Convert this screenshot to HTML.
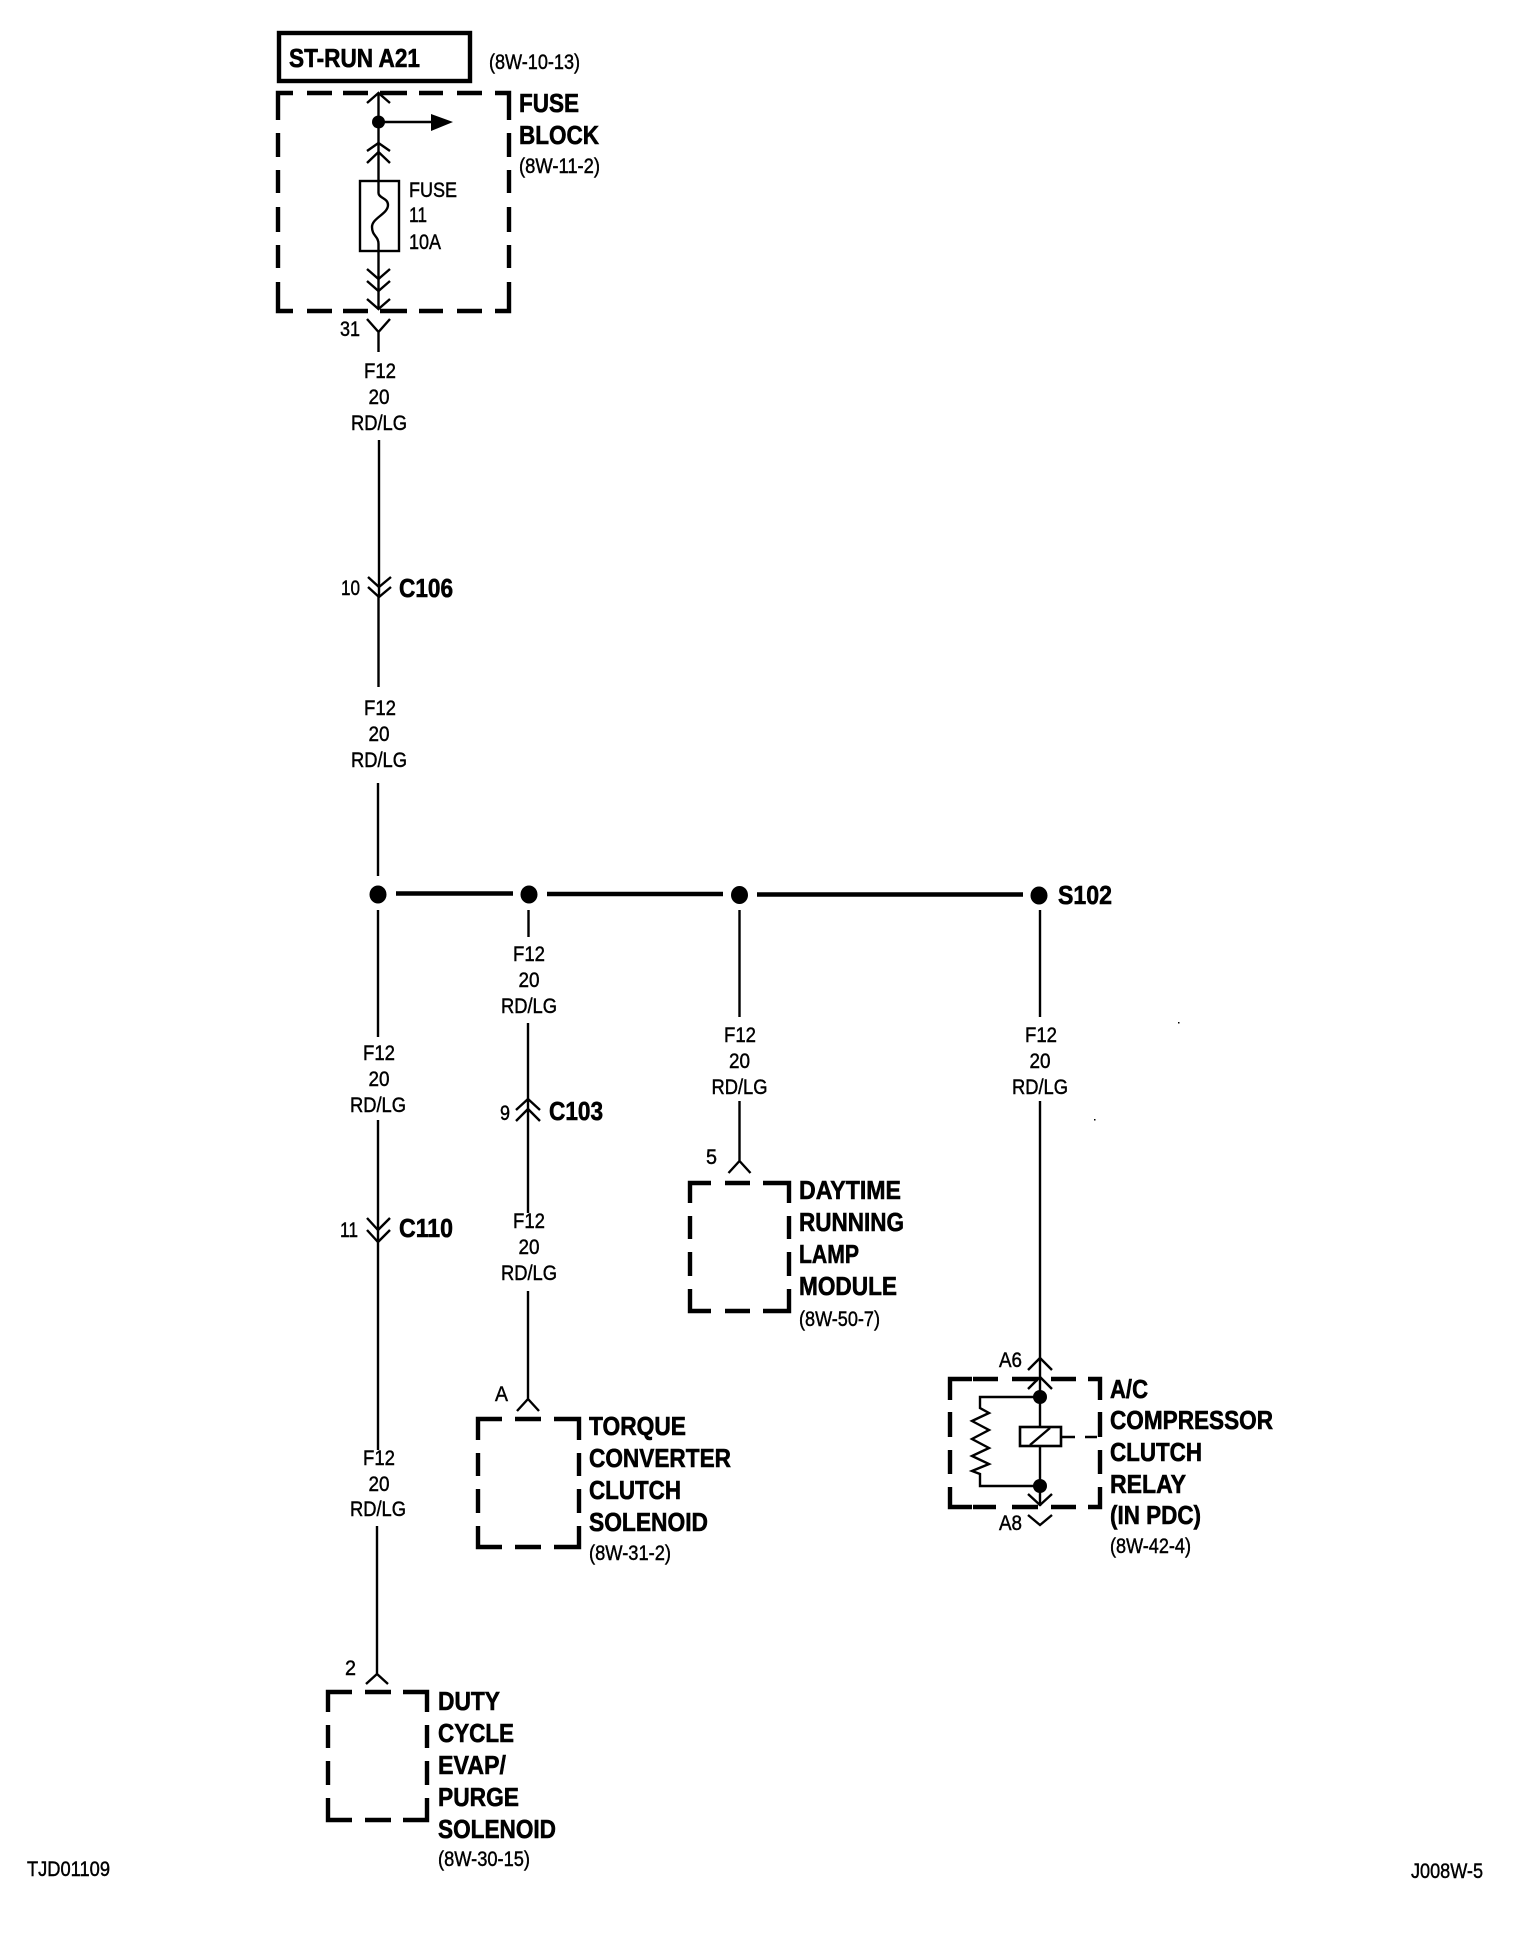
<!DOCTYPE html>
<html><head><meta charset="utf-8"><style>
html,body{margin:0;padding:0;background:#fff}
svg{display:block}
text{font-family:"Liberation Sans",sans-serif;fill:#000}
.b{font-weight:700;font-size:26px;stroke:#000;stroke-width:.6px}
.r{font-size:21px;stroke:#000;stroke-width:.45px}
.c{text-anchor:middle}
.l{fill:none;stroke:#000;stroke-width:2.4}
.t{fill:none;stroke:#000;stroke-width:4.4}
.d{fill:none;stroke:#000;stroke-width:4.4}
</style></head><body>
<svg width="1520" height="1936" viewBox="0 0 1520 1936" xmlns="http://www.w3.org/2000/svg">
<rect width="1520" height="1936" fill="#fff"/>

<!-- top box -->
<rect x="279" y="33" width="191" height="48" class="t"/>
<text x="289" y="67" class="b" textLength="131" lengthAdjust="spacingAndGlyphs">ST-RUN A21</text>
<text x="489" y="69" class="r" textLength="91" lengthAdjust="spacingAndGlyphs">(8W-10-13)</text>

<!-- fuse block dashed -->
<path class="d" d="M293 93H278V120M307 93H332M343 93H368M380 93H407M419 93H443M457 93H482M495 93H509V120M278 133V157M278 170V193M278 207V232M278 245V268M278 282V311H293M307 311H332M343 311H368M380 311H407M419 311H443M457 311H482M495 311H509V282M509 268V245M509 232V207M509 193V170M509 157V133"/>
<text x="519" y="112" class="b" textLength="60" lengthAdjust="spacingAndGlyphs">FUSE</text>
<text x="519" y="144" class="b" textLength="80" lengthAdjust="spacingAndGlyphs">BLOCK</text>
<text x="519" y="173" class="r" textLength="81" lengthAdjust="spacingAndGlyphs">(8W-11-2)</text>

<path class="l" d="M378.5 93V193C378.5 198 388 198 388 205C388 214 372 218 372 227C372 236 378.5 236 378.5 244V309"/>
<path class="l" d="M367 103L378.5 93L390 103M367 151L378.5 143L390 151M367 163L378.5 152L390 163"/>
<circle cx="378.5" cy="122" r="6.5"/>
<path class="l" d="M379 122H432"/>
<path d="M431 114L453 122L431 131Z"/>
<rect x="360" y="181" width="39" height="70" class="l"/>
<text x="409" y="197" class="r" textLength="48" lengthAdjust="spacingAndGlyphs">FUSE</text>
<text x="409" y="222" class="r" textLength="18" lengthAdjust="spacingAndGlyphs">11</text>
<text x="409" y="249" class="r" textLength="32" lengthAdjust="spacingAndGlyphs">10A</text>
<path class="l" d="M367 269L378.5 279L390 269M367 281L378.5 291L390 281M367 299L378.5 309L390 299"/>
<path class="l" d="M367 319L378.5 332L390 319M378.5 332V352"/>
<text x="340" y="336" class="r" textLength="20" lengthAdjust="spacingAndGlyphs">31</text>

<!-- main wire -->
<text x="380" y="378" class="r c" textLength="32" lengthAdjust="spacingAndGlyphs">F12</text><text x="379" y="404" class="r c" textLength="21" lengthAdjust="spacingAndGlyphs">20</text><text x="379" y="430" class="r c" textLength="56" lengthAdjust="spacingAndGlyphs">RD/LG</text>
<path class="l" d="M379 440V596"/>
<path class="l" d="M368 577L379 587L391 577M368 587L379 597L391 587"/>
<text x="341" y="595" class="r" textLength="19" lengthAdjust="spacingAndGlyphs">10</text>
<text x="399" y="597" class="b" textLength="54" lengthAdjust="spacingAndGlyphs">C106</text>
<path class="l" d="M378.5 597V687"/>
<text x="380" y="715" class="r c" textLength="32" lengthAdjust="spacingAndGlyphs">F12</text><text x="379" y="741" class="r c" textLength="21" lengthAdjust="spacingAndGlyphs">20</text><text x="379" y="767" class="r c" textLength="56" lengthAdjust="spacingAndGlyphs">RD/LG</text>
<path class="l" d="M378 783V876"/>

<!-- splice -->
<ellipse cx="378" cy="894.5" rx="8.5" ry="9"/>
<ellipse cx="529" cy="894.5" rx="8.5" ry="9"/>
<ellipse cx="739.5" cy="895" rx="8.5" ry="9"/>
<ellipse cx="1039" cy="895.5" rx="8.5" ry="9"/>
<path class="t" d="M396 893.5H513M547 894H723M757 894.5H1023"/>
<text x="1058" y="904" class="b" textLength="54" lengthAdjust="spacingAndGlyphs">S102</text>

<!-- branch 1 -->
<path class="l" d="M378 910V1037"/>
<text x="379" y="1060" class="r c" textLength="32" lengthAdjust="spacingAndGlyphs">F12</text><text x="379" y="1086" class="r c" textLength="21" lengthAdjust="spacingAndGlyphs">20</text><text x="378" y="1112" class="r c" textLength="56" lengthAdjust="spacingAndGlyphs">RD/LG</text>
<path class="l" d="M378 1120V1241"/>
<path class="l" d="M367 1218L378 1230L390 1218M367 1230L378 1242L390 1230"/>
<text x="340" y="1237" class="r" textLength="18" lengthAdjust="spacingAndGlyphs">11</text>
<text x="399" y="1237" class="b" textLength="54" lengthAdjust="spacingAndGlyphs">C110</text>
<path class="l" d="M378 1242V1450"/>
<text x="379" y="1465" class="r c" textLength="32" lengthAdjust="spacingAndGlyphs">F12</text><text x="379" y="1491" class="r c" textLength="21" lengthAdjust="spacingAndGlyphs">20</text><text x="378" y="1516" class="r c" textLength="56" lengthAdjust="spacingAndGlyphs">RD/LG</text>
<path class="l" d="M377 1526V1674M366 1684L377 1674L388 1684"/>
<text x="345" y="1675" class="r" textLength="11" lengthAdjust="spacingAndGlyphs">2</text>
<path class="d" d="M352 1692H328V1712M365 1692H391M403 1692H427V1712M328 1725V1748M328 1761V1785M328 1798V1820H352M365 1820H391M403 1820H427V1798M427 1785V1761M427 1748V1725"/>
<text x="438" y="1710" class="b" textLength="62" lengthAdjust="spacingAndGlyphs">DUTY</text>
<text x="438" y="1742" class="b" textLength="76" lengthAdjust="spacingAndGlyphs">CYCLE</text>
<text x="438" y="1774" class="b" textLength="68" lengthAdjust="spacingAndGlyphs">EVAP/</text>
<text x="438" y="1806" class="b" textLength="81" lengthAdjust="spacingAndGlyphs">PURGE</text>
<text x="438" y="1838" class="b" textLength="118" lengthAdjust="spacingAndGlyphs">SOLENOID</text>
<text x="438" y="1866" class="r" textLength="92" lengthAdjust="spacingAndGlyphs">(8W-30-15)</text>

<!-- branch 2 -->
<path class="l" d="M528.5 910V937"/>
<text x="529" y="961" class="r c" textLength="32" lengthAdjust="spacingAndGlyphs">F12</text><text x="529" y="987" class="r c" textLength="21" lengthAdjust="spacingAndGlyphs">20</text><text x="529" y="1013" class="r c" textLength="56" lengthAdjust="spacingAndGlyphs">RD/LG</text>
<path class="l" d="M528 1023V1213"/>
<path class="l" d="M516 1110L528 1099L540 1110M516 1121L528 1109L540 1121"/>
<text x="500" y="1120" class="r" textLength="10" lengthAdjust="spacingAndGlyphs">9</text>
<text x="549" y="1120" class="b" textLength="54" lengthAdjust="spacingAndGlyphs">C103</text>
<text x="529" y="1228" class="r c" textLength="32" lengthAdjust="spacingAndGlyphs">F12</text><text x="529" y="1254" class="r c" textLength="21" lengthAdjust="spacingAndGlyphs">20</text><text x="529" y="1280" class="r c" textLength="56" lengthAdjust="spacingAndGlyphs">RD/LG</text>
<path class="l" d="M528 1291V1399M517 1411L528 1399L539 1411"/>
<text x="495" y="1401" class="r" textLength="13" lengthAdjust="spacingAndGlyphs">A</text>
<path class="d" d="M502 1419H478V1440M515 1419H541M554 1419H579V1440M478 1453V1476M478 1489V1513M478 1526V1547H502M515 1547H541M554 1547H579V1526M579 1513V1489M579 1476V1453"/>
<text x="589" y="1435" class="b" textLength="97" lengthAdjust="spacingAndGlyphs">TORQUE</text>
<text x="589" y="1467" class="b" textLength="142" lengthAdjust="spacingAndGlyphs">CONVERTER</text>
<text x="589" y="1499" class="b" textLength="92" lengthAdjust="spacingAndGlyphs">CLUTCH</text>
<text x="589" y="1531" class="b" textLength="119" lengthAdjust="spacingAndGlyphs">SOLENOID</text>
<text x="589" y="1560" class="r" textLength="82" lengthAdjust="spacingAndGlyphs">(8W-31-2)</text>

<!-- branch 3 -->
<path class="l" d="M739.5 910V1017"/>
<text x="740" y="1042" class="r c" textLength="32" lengthAdjust="spacingAndGlyphs">F12</text><text x="739.5" y="1068" class="r c" textLength="21" lengthAdjust="spacingAndGlyphs">20</text><text x="739.5" y="1094" class="r c" textLength="56" lengthAdjust="spacingAndGlyphs">RD/LG</text>
<path class="l" d="M739.5 1101V1161M728.5 1173L739.5 1161L750.5 1173"/>
<text x="706" y="1164" class="r" textLength="11" lengthAdjust="spacingAndGlyphs">5</text>
<path class="d" d="M711 1183H690V1203M725 1183H750M763 1183H789V1203M690 1216V1239M690 1252V1276M690 1289V1311H711M725 1311H750M763 1311H789V1289M789 1276V1252M789 1239V1216"/>
<text x="799" y="1199" class="b" textLength="102" lengthAdjust="spacingAndGlyphs">DAYTIME</text>
<text x="799" y="1231" class="b" textLength="105" lengthAdjust="spacingAndGlyphs">RUNNING</text>
<text x="799" y="1263" class="b" textLength="60" lengthAdjust="spacingAndGlyphs">LAMP</text>
<text x="799" y="1295" class="b" textLength="98" lengthAdjust="spacingAndGlyphs">MODULE</text>
<text x="799" y="1326" class="r" textLength="81" lengthAdjust="spacingAndGlyphs">(8W-50-7)</text>

<!-- branch 4 -->
<path class="l" d="M1040 910V1017"/>
<text x="1041" y="1042" class="r c" textLength="32" lengthAdjust="spacingAndGlyphs">F12</text><text x="1040" y="1068" class="r c" textLength="21" lengthAdjust="spacingAndGlyphs">20</text><text x="1040" y="1094" class="r c" textLength="56" lengthAdjust="spacingAndGlyphs">RD/LG</text>
<path class="l" d="M1040 1101V1426"/>
<path class="l" d="M1028 1370L1040 1358L1052 1370M1028 1389L1040 1377L1052 1389"/>
<text x="999" y="1367" class="r" textLength="23" lengthAdjust="spacingAndGlyphs">A6</text>
<path class="d" d="M972 1379H950V1400M973 1379H998M1012 1379H1038M1051 1379H1076M1088 1379H1100V1400M950 1412V1437M950 1450V1474M950 1487V1507H972M973 1507H996M1012 1507H1038M1051 1507H1076M1088 1507H1100V1487M1100 1474V1450M1100 1437V1412"/>
<circle cx="1040" cy="1397" r="7"/>
<circle cx="1040" cy="1486" r="7"/>
<path class="l" d="M1040 1397H980V1408L989 1413L972 1421L989 1430L972 1439L989 1448L972 1456L989 1464L972 1471L980 1474V1486H1040"/>
<rect x="1020" y="1427" width="41" height="19" fill="#fff" stroke="#000" stroke-width="2.6"/>
<path class="l" d="M1030 1445L1050 1428M1061 1437H1075M1085 1437H1097M1040 1446V1506"/>
<path class="l" d="M1028 1494L1040 1505L1052 1494M1028 1515L1040 1525L1052 1515"/>
<text x="999" y="1530" class="r" textLength="23" lengthAdjust="spacingAndGlyphs">A8</text>
<text x="1110" y="1398" class="b" textLength="38" lengthAdjust="spacingAndGlyphs">A/C</text>
<text x="1110" y="1429" class="b" textLength="163" lengthAdjust="spacingAndGlyphs">COMPRESSOR</text>
<text x="1110" y="1461" class="b" textLength="92" lengthAdjust="spacingAndGlyphs">CLUTCH</text>
<text x="1110" y="1493" class="b" textLength="76" lengthAdjust="spacingAndGlyphs">RELAY</text>
<text x="1110" y="1524" class="b" textLength="91" lengthAdjust="spacingAndGlyphs">(IN PDC)</text>
<text x="1110" y="1553" class="r" textLength="81" lengthAdjust="spacingAndGlyphs">(8W-42-4)</text>

<!-- footer -->
<text x="27" y="1876" class="r" textLength="83" lengthAdjust="spacingAndGlyphs">TJD01109</text>
<text x="1411" y="1878" class="r" textLength="72" lengthAdjust="spacingAndGlyphs">J008W-5</text>
<rect x="1178" y="1022" width="1.5" height="1.5"/>
<rect x="1094" y="1119" width="1.5" height="1.5"/>
</svg>
</body></html>
